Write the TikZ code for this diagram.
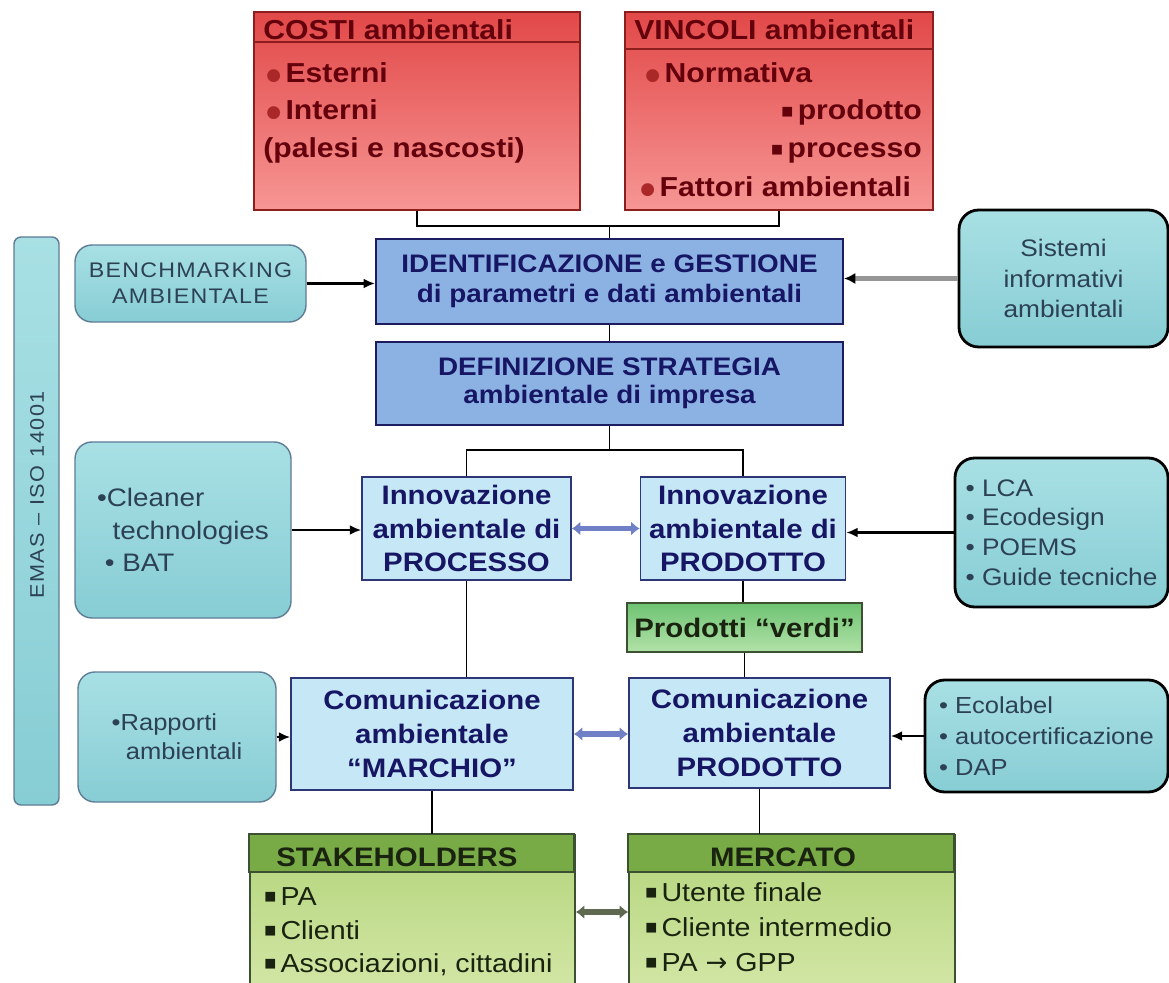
\documentclass[tikz,border=0pt]{standalone}
\usepackage{fontspec}
\setmainfont{Liberation Sans}[FakeStretch=1.1]
\newfontfamily\symf{DejaVu Sans}
\usepackage{tikz}
\usetikzlibrary{arrows.meta}
\definecolor{redtop}{RGB}{226,72,72}
\definecolor{redbot}{RGB}{246,150,148}
\definecolor{reddraw}{RGB}{140,30,30}
\definecolor{redtext}{RGB}{100,0,12}
\definecolor{bulred}{RGB}{170,40,40}
\definecolor{bluefill}{RGB}{140,178,228}
\definecolor{bluedraw}{RGB}{28,28,95}
\definecolor{bluetext}{RGB}{22,22,100}
\definecolor{lightfill}{RGB}{198,232,246}
\definecolor{lightdraw}{RGB}{45,55,120}
\definecolor{sidetop}{RGB}{168,224,228}
\definecolor{sidebot}{RGB}{135,205,212}
\definecolor{sidedraw}{RGB}{95,125,150}
\definecolor{sidetext}{RGB}{45,65,85}
\definecolor{greenhead}{RGB}{120,170,70}
\definecolor{greentop}{RGB}{178,212,122}
\definecolor{greenbot}{RGB}{210,230,165}
\definecolor{greendraw}{RGB}{60,80,50}
\definecolor{greentext}{RGB}{25,35,15}
\definecolor{verditop}{RGB}{110,195,115}
\definecolor{verdibot}{RGB}{178,226,168}
\definecolor{arrgrey}{RGB}{150,150,150}
\definecolor{dblblue}{RGB}{112,128,198}
\definecolor{dblgreen}{RGB}{95,105,80}
\newcommand{\rb}{\raisebox{1.5pt}{\symf\fontsize{12}{12}\selectfont\textcolor{bulred}{●}}}
\newcommand{\sqb}{\raisebox{3pt}{\symf\fontsize{9}{9}\selectfont ■}}
\newcommand{\gsq}{\raisebox{3pt}{\symf\fontsize{9}{9}\selectfont ■}}
\tikzset{
  sz/.style 2 args={minimum width={#1*0.025cm}, minimum height={#2*0.025cm}},
  redbox/.style={draw=reddraw, line width=1.2pt, top color=redtop, bottom color=redbot, inner sep=0pt},
  redtxt/.style={font=\fontsize{19.5}{27}\selectfont\bfseries, text=redtext, inner sep=0pt},
  bluebox/.style={draw=bluedraw, line width=1.5pt, fill=bluefill, align=center, text=bluetext, inner sep=0pt},
  lightbox/.style={draw=lightdraw, line width=1.2pt, fill=lightfill, align=center, text=bluetext, inner sep=0pt,
    font=\fontsize{19}{24}\selectfont\bfseries},
  sidebox/.style={draw=sidedraw, line width=1pt, top color=sidetop, bottom color=sidebot, rounded corners=12pt,
    text=sidetext, inner sep=0pt},
  darkside/.style={sidebox, draw=black, line width=2pt, rounded corners=14pt},
  greenbox/.style={draw=greendraw, line width=1.2pt, top color=greentop, bottom color=greenbot, inner sep=0pt},
  greentxt/.style={font=\fontsize{18.5}{23}\selectfont, text=greentext, inner sep=0pt},
  greenhd/.style={font=\fontsize{19}{23}\selectfont\bfseries, text=greentext, inner sep=0pt},
  link/.style={draw=black, line width=1.2pt},
  arr/.style={link, line width=1.5pt, -{Latex[length=8pt,width=7pt]}},
  dblarr/.style={draw=dblblue, line width=4pt, {Latex[length=6pt,width=10pt]}-{Latex[length=6pt,width=10pt]}}
}
\begin{document}
\begin{tikzpicture}[x=0.025cm, y=-0.025cm]
\useasboundingbox[fill=white] (0,0) rectangle (1169,983);

% costi e vincoli
\node[redbox, sz={326}{198}] (costi) at (417,111) {};
\node[redbox, sz={308}{198}] (vincoli) at (779,111) {};
\draw[draw=reddraw, line width=1.5pt] (costi.north west) ++(0,31) -- ++(326,0);
\draw[draw=reddraw, line width=1.5pt] (vincoli.north west) ++(0,38) -- ++(308,0);
\node[redtxt, anchor=base west] (costih) at (263,40) {COSTI ambientali};
\node[redtxt, anchor=base west] (esterni) at (266,83) {\rb\,Esterni};
\node[redtxt, anchor=base west] (interni) at (266,120) {\rb\,Interni};
\node[redtxt, anchor=base west] (palesi) at (263,158) {(palesi e nascosti)};
\node[redtxt, anchor=base west] (vincolih) at (634,40) {VINCOLI ambientali};
\node[redtxt, anchor=base west] (normativa) at (645,83) {\rb\,Normativa};
\node[redtxt, anchor=base east] (vprodotto) at (922,120) {\sqb\,prodotto};
\node[redtxt, anchor=base east] (vprocesso) at (922,158) {\sqb\,processo};
\node[redtxt, anchor=base west] (fattori) at (640,197) {\rb\,Fattori ambientali};

% colonna centrale
\node[bluebox, sz={467}{85}, font=\fontsize{18}{21}\selectfont\bfseries] (ident) at (609.5,281.5)
  {IDENTIFICAZIONE e GESTIONE\\di parametri e dati ambientali};
\node[bluebox, sz={467}{83}, font=\fontsize{18}{20}\selectfont\bfseries] (defin) at (609.5,383.5)
  {DEFINIZIONE STRATEGIA\\ambientale di impresa};
\coordinate (rj) at (609.5,226);
\draw[link] (costi.south) |- (rj) -| (vincoli.south);
\draw[link] (rj) -- (ident.north);
\draw[link] (ident.south) -- (defin.north);

\node[lightbox, sz={209}{103}] (proc) at (466.5,528.5) {Innovazione\\ambientale di\\PROCESSO};
\node[lightbox, sz={205}{103}] (prod) at (743,528.5) {Innovazione\\ambientale di\\PRODOTTO};
\coordinate (ij) at (609.5,450);
\draw[link] (defin.south) -- (ij);
\draw[link] (proc.north) |- (ij) -| (prod.north);
\draw[dblarr] (proc.east) -- (prod.west);

\node[draw=greendraw, line width=1.2pt, top color=verditop, bottom color=verdibot, sz={235}{49}, inner sep=0pt,
  font=\fontsize{19}{23}\selectfont\bfseries, text=greentext] (verdi) at (744.5,627.5) {Prodotti “verdi”};
\draw[link] (prod.south) -- (prod.south |- verdi.north);

\node[lightbox, sz={282}{112}] (marchio) at (432,734) {Comunicazione\\ambientale\\“MARCHIO”};
\node[lightbox, sz={261}{110}] (comprod) at (759.5,733) {Comunicazione\\ambientale\\PRODOTTO};
\draw[link] (proc.south) -- (proc.south |- marchio.north);
\draw[link] (verdi.south) -- (verdi.south |- comprod.north);
\draw[dblarr] (marchio.east) -- (marchio.east -| comprod.west);

% stakeholders e mercato
\node[greenbox, sz={325}{154}] (stake) at (412.5,912) {};
\node[greenbox, sz={326}{154}] (mercato) at (792,912) {};
\path[fill=greenhead, draw=greendraw, line width=1.2pt] (stake.north west) rectangle ++(325,38);
\path[fill=greenhead, draw=greendraw, line width=1.2pt] (mercato.north west) rectangle ++(326,38);
\node[greenhd, anchor=base west] (stakeh) at (276,866) {STAKEHOLDERS};
\node[greenhd, anchor=base] (mercatoh) at (783,866) {MERCATO};
\node[greentxt, anchor=base west] (pa) at (264,905) {\gsq\,PA};
\node[greentxt, anchor=base west] (clienti) at (264,939) {\gsq\,Clienti};
\node[greentxt, anchor=base west] (assoc) at (264,972) {\gsq\,Associazioni, cittadini};
\node[greentxt, anchor=base west] (utente) at (645,901) {\gsq\,Utente finale};
\node[greentxt, anchor=base west] (cliente) at (645,936) {\gsq\,Cliente intermedio};
\node[greentxt, anchor=base west] (gpp) at (645,971) {\gsq\,PA {\symf→} GPP};
\draw[link] (marchio.south) -- (marchio.south |- stake.north);
\draw[link] (comprod.south) -- (comprod.south |- mercato.north);
\draw[dblarr, draw=dblgreen] (stake.east) -- (mercato.west);

% riquadri laterali
\node[sidebox, rounded corners=5pt, sz={45}{568}] (emas) at (36.5,521) {};
\node[rotate=90, text=sidetext, font=\fontsize{14}{14}\selectfont\addfontfeature{LetterSpace=8}] (emast) at (37,495)
  {EMAS – ISO 14001};
\node[sidebox, sz={231}{77}, align=center, font=\fontsize{15}{18.5}\selectfont\addfontfeature{LetterSpace=6}] (bench)
  at (190.5,283.5) {BENCHMARKING\\AMBIENTALE};
\node[darkside, sz={209}{137}, align=center, font=\fontsize{17}{22}\selectfont] (sistemi) at (1063.5,278.5)
  {Sistemi\\informativi\\ambientali};
\node[sidebox, sz={216}{176}, align=left, font=\fontsize{18}{23}\selectfont] (cleaner) at (183,530)
  {•Cleaner\\\ \ technologies\\\ • BAT};
\node[darkside, sz={213}{149}, align=left, font=\fontsize{17}{21}\selectfont] (lca) at (1061.5,532.5)
  {• LCA\\• Ecodesign\\• POEMS\\• Guide tecniche};
\node[sidebox, sz={198}{130}, align=left, font=\fontsize{16.5}{20.5}\selectfont] (rapporti) at (177,737)
  {•Rapporti\\\ \ ambientali};
\node[darkside, sz={243}{112}, align=left, font=\fontsize{16.5}{22}\selectfont] (ecolabel) at (1046.5,736)
  {• Ecolabel\\• autocertificazione\\• DAP};

\draw[arr] (bench.east) -- (bench.east -| ident.west);
\draw[draw=arrgrey, line width=3pt, -{Latex[length=8pt,width=8pt,color=black]}] (sistemi.west) -- (sistemi.west -| ident.east);
\draw[arr] (cleaner.east) -- (cleaner.east -| proc.west);
\draw[arr] (lca.west) -- (lca.west -| prod.east);
\draw[arr] (rapporti.east) -- (rapporti.east -| marchio.west);
\draw[arr] (ecolabel.west) -- (ecolabel.west -| comprod.east);
\end{tikzpicture}
\end{document}
